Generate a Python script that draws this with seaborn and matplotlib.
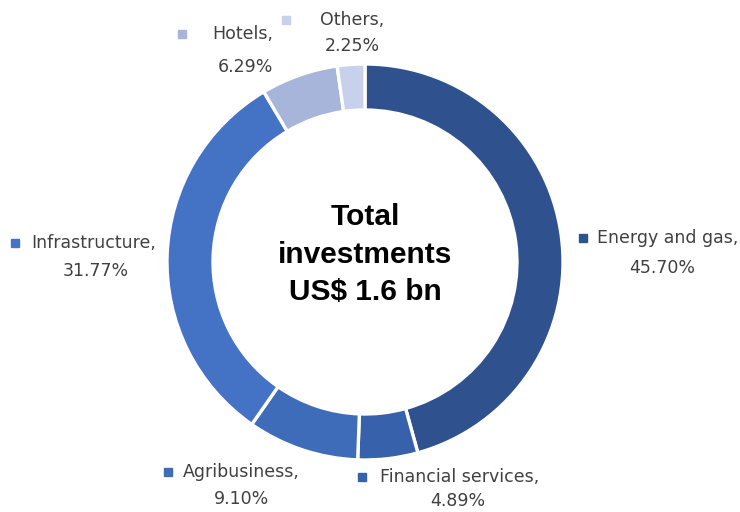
import matplotlib
matplotlib.use("Agg")
import matplotlib.pyplot as plt
import seaborn as sns

# Investment breakdown by sector (share of total, %)
sectors = ["Energy and gas", "Financial services", "Agribusiness",
           "Infrastructure", "Hotels", "Others"]
shares = [45.70, 4.89, 9.10, 31.77, 6.29, 2.25]
colors = ["#2F528F", "#3761AA", "#3E6CB9", "#4472C4", "#A8B5DB", "#C8D1EB"]

# Label anchors in pixel space: (marker x, first line y, text left x, second line center x, second line y)
label_layout = {
    "Energy and gas":     (583, 238, 597, 662, 268),
    "Financial services": (362, 477, 380, 458, 501),
    "Agribusiness":       (168, 472, 183, 242, 499),
    "Infrastructure":     (15, 243, 31, 96, 271),
    "Hotels":             (182, 34, 212, 245, 67),
    "Others":             (286, 20, 320, 352, 46),
}

W, H = 740, 512
CX, CY, R = 365, 262, 198
INNER = 152

sns.set_theme(style="white")
plt.rcParams["font.family"] = ["DejaVu Sans"]

fig = plt.figure(figsize=(W / 100, H / 100), dpi=100)
ax = fig.add_axes([0, 0, 1, 1])
ax.axis("off")


def px(x, y):
    return (x - CX) / R, (CY - y) / R


ax.pie(shares, colors=colors, startangle=90, counterclock=False, radius=1.0,
       wedgeprops=dict(width=(R - INNER) / R, edgecolor="white", linewidth=2.4),
       frame=False)
ax.set_xlim(-CX / R, (W - CX) / R)
ax.set_ylim(-(H - CY) / R, CY / R)
ax.set_aspect("auto")

text_color = "#404040"
for name, value, col in zip(sectors, shares, colors):
    mx, ly, tx, vx, vy = label_layout[name]
    ax.plot(*px(mx, ly), marker="s", markersize=5.5, color=col, linestyle="none")
    ax.text(*px(tx, ly), f"{name},", ha="left", va="center",
            fontsize=12.5, color=text_color)
    ax.text(*px(vx, vy), f"{value:.2f}%", ha="center", va="center",
            fontsize=12.5, color=text_color)

center_lines = ["Total", "investments", "US$ 1.6 bn"]
for line, y in zip(center_lines, [217, 255, 292]):
    ax.text(*px(CX, y), line, ha="center", va="center", fontsize=21.5,
            fontweight="bold", color="black", family=["Liberation Sans"])

fig.savefig("out.png", dpi=100)
